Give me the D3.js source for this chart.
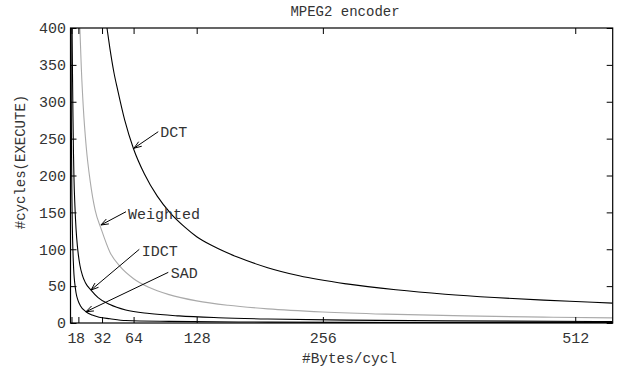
<!DOCTYPE html>
<html lang="en">
<head>
   <meta charset="utf-8">
   <title>MPEG2 encoder</title>
   <script src="https://cdn.jsdelivr.net/npm/d3@7/dist/d3.min.js"></script>
   <style type="text/css">
      body { margin: 0; background: #fff; }
      text { font-family: "Liberation Mono", "DejaVu Sans Mono", monospace; fill: #333; }
      .axis line { stroke: #000; stroke-width: 1; }
      .axis path { display: none; }
   </style>
</head>
<body>
   <script type="text/javascript">

      var w = 623;
      var h = 373;
      var margin = { top: 28, right: 10.3, bottom: 50, left: 70.5 };

      // tick labels
      var xTicks = [1, 8, 32, 64, 128, 256, 512];
      var yTicks = [0, 50, 100, 150, 200, 250, 300, 350, 400];

      // curves (x = bytes/cycle, y = cycles)
      var dctX = [37, 40, 44, 48, 55, 64, 75, 88, 102, 116, 128, 145, 170, 200, 232, 280, 330, 380, 430, 480, 530, 550];
      var dctY = [400, 372, 340, 315, 275, 236, 202, 172, 148, 130, 117, 104, 89, 75, 64, 53, 45, 39, 34.5, 31, 28.2, 27];

      var weightedX = [9.5, 11, 13, 16, 20, 25, 31, 40, 50, 64, 80, 100, 128, 160, 200, 256, 320, 400, 480, 550];
      var weightedY = [400, 345, 292, 238, 192, 153, 128, 96, 77, 60, 48, 38.5, 30, 24, 19.2, 15, 12, 9.6, 8, 7];

      var idctX = [1.6, 2, 2.5, 3, 3.5, 4.5, 5.6, 7, 8, 9.6, 12, 15, 20.8, 28, 40, 56, 80, 110, 150, 200, 280, 380, 550];
      var idctY = [400, 340, 280, 232, 198, 158, 128, 104, 92, 78, 65, 55, 44.7, 34.5, 25, 17.6, 12.8, 9.6, 7.2, 5.4, 3.9, 2.9, 2];

      var sadX = [0.6, 0.8, 1, 1.4, 1.8, 2.2, 2.84, 3.5, 4.5, 5.6, 7.5, 10, 15.7, 22, 29, 40, 56, 100, 200, 350, 550];
      var sadY = [400, 300, 240, 175, 135, 110, 84, 66, 52, 41, 31, 23.5, 15.3, 10.8, 7.9, 5.8, 3.4, 2.2, 1.2, 0.7, 0.45];

      // annotation labels: text, arrow tip, arrow tail, text position (data units)
      var labels = ["DCT", "Weighted", "IDCT", "SAD"];
      var tipX = [64.4, 30.9, 20.8, 15.7];
      var tipY = [237, 132.9, 44.7, 15.3];
      var tailX = [89, 56.3, 69.8, 99.2];
      var tailY = [259.4, 150.9, 99.9, 68.7];
      var textX = [91, 58.3, 72.2, 101.6];
      var textY = [252.5, 141, 90.8, 61];

      var series = [
         { name: "DCT", xs: dctX, ys: dctY, color: "#000" },
         { name: "Weighted", xs: weightedX, ys: weightedY, color: "#aaa" },
         { name: "IDCT", xs: idctX, ys: idctY, color: "#000" },
         { name: "SAD", xs: sadX, ys: sadY, color: "#000" }
      ];

      var xScale = d3.scaleLinear()
                     .domain([0, 550])
                     .range([margin.left, w - margin.right]);

      var yScale = d3.scaleLinear()
                     .domain([0, 400])
                     .range([h - margin.bottom, margin.top]);

      var svg = d3.select("body")
                  .append("svg")
                  .attr("width", w)
                  .attr("height", h);

      svg.append("defs").append("clipPath")
         .attr("id", "plot")
         .append("rect")
         .attr("x", xScale(0))
         .attr("y", yScale(400))
         .attr("width", xScale(550) - xScale(0))
         .attr("height", yScale(0) - yScale(400));

      var line = d3.line()
                   .x(function(d) { return xScale(d[0]); })
                   .y(function(d) { return yScale(d[1]); })
                   .curve(d3.curveMonotoneX);

      svg.append("g")
         .attr("clip-path", "url(#plot)")
         .selectAll("path")
         .data(series)
         .enter()
         .append("path")
         .attr("d", function(s) {
            return line(s.xs.map(function(x, i) { return [x, s.ys[i]]; }));
         })
         .attr("fill", "none")
         .attr("stroke", function(s) { return s.color; })
         .attr("stroke-width", 1.1);

      // axes, ticks drawn inward and mirrored
      var xAxis = d3.axisBottom(xScale).tickValues(xTicks).tickSizeInner(-6).tickSizeOuter(0).tickPadding(9.5);
      var xTop = d3.axisTop(xScale).tickValues(xTicks).tickSizeInner(-6).tickSizeOuter(0).tickFormat("");
      var yAxis = d3.axisLeft(yScale).tickValues(yTicks).tickSizeInner(-6).tickSizeOuter(0).tickPadding(4.5);
      var yRight = d3.axisRight(yScale).tickValues(yTicks).tickSizeInner(-6).tickSizeOuter(0).tickFormat("");

      var gx = svg.append("g").attr("class", "axis")
         .attr("transform", "translate(0," + yScale(0) + ")")
         .call(xAxis);
      gx.selectAll("text").style("font-size", "15px");
      // the labels of 1 and 8 sit side by side, reading "18"
      gx.selectAll("text")
         .filter(function(d) { return d === 1; })
         .style("text-anchor", "end").attr("dx", 4.5);
      gx.selectAll("text")
         .filter(function(d) { return d === 8; })
         .style("text-anchor", "start").attr("dx", -3);

      svg.append("g").attr("class", "axis")
         .attr("transform", "translate(0," + yScale(400) + ")")
         .call(xTop);

      svg.append("g").attr("class", "axis")
         .attr("transform", "translate(" + xScale(0) + ",0)")
         .call(yAxis)
         .selectAll("text").style("font-size", "15px");

      svg.append("g").attr("class", "axis")
         .attr("transform", "translate(" + xScale(550) + ",0)")
         .call(yRight);

      // frame
      svg.append("rect")
         .attr("x", xScale(0))
         .attr("y", yScale(400))
         .attr("width", xScale(550) - xScale(0))
         .attr("height", yScale(0) - yScale(400))
         .attr("fill", "none")
         .attr("stroke", "#000")
         .attr("stroke-width", 1.2);

      // annotation arrows
      labels.forEach(function(lbl, i) {
         var x1 = xScale(tailX[i]), y1 = yScale(tailY[i]);
         var x2 = xScale(tipX[i]), y2 = yScale(tipY[i]);
         var a = Math.atan2(y2 - y1, x2 - x1);
         var len = 8, spread = 0.35;
         svg.append("line")
            .attr("x1", x1).attr("y1", y1).attr("x2", x2).attr("y2", y2)
            .attr("stroke", "#000").attr("stroke-width", 1);
         svg.append("path")
            .attr("d", "M" + (x2 - len * Math.cos(a - spread)) + "," + (y2 - len * Math.sin(a - spread)) +
                       "L" + x2 + "," + y2 +
                       "L" + (x2 - len * Math.cos(a + spread)) + "," + (y2 - len * Math.sin(a + spread)))
            .attr("fill", "none").attr("stroke", "#000").attr("stroke-width", 1);
         svg.append("text")
            .attr("x", xScale(textX[i]))
            .attr("y", yScale(textY[i]))
            .style("font-size", "15px")
            .text(lbl);
      });

      // title
      svg.append("text")
         .attr("x", 345)
         .attr("y", 16)
         .style("text-anchor", "middle")
         .style("font-size", "14px")
         .text("MPEG2 encoder");

      // text label for the x axis
      svg.append("text")
         .attr("x", 302)
         .attr("y", 363)
         .style("font-size", "14.4px")
         .text("#Bytes/cycl");

      // text label for the y axis
      svg.append("text")
         .attr("transform", "translate(25,162) rotate(-90)")
         .style("text-anchor", "middle")
         .style("font-size", "14px")
         .text("#cycles(EXECUTE)");

   </script>
</body>
</html>
